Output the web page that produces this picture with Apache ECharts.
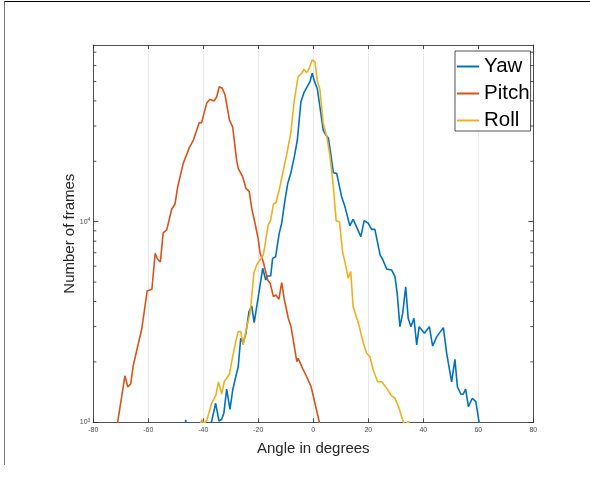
<!DOCTYPE html>
<html>
<head>
<meta charset="utf-8">
<script src="https://cdn.jsdelivr.net/npm/echarts@6/dist/echarts.min.js"></script>
<style>html,body{margin:0;padding:0;background:#fff}#c{width:590px;height:481px}</style>
</head>
<body>
<div id="c"></div>
<script>
// ---- data (angle in degrees, number of frames) ----
const seriesNames = ['Yaw', 'Pitch', 'Roll'];
const xTicks = [-80, -60, -40, -20, 0, 20, 40, 60, 80];
const yMajorTicks = [1000, 10000];
const yMinorTicks = [2000, 3000, 4000, 5000, 6000, 7000, 8000, 9000, 20000, 30000, 40000, 50000, 60000, 70000];

const yawData = [
  [-47, 850], [-46.4, 1030], [-45.8, 850], [-41, 800], [-37.2, 980], [-35.5, 1244], [-34.3, 1015],
  [-33.3, 1035], [-32.5, 1117], [-31.5, 1462], [-30.3, 1161], [-29.3, 1449], [-28.2, 1687],
  [-27.3, 1893], [-26.4, 2625], [-25.5, 2478], [-24.5, 2780], [-23.4, 3556], [-22.4, 3800],
  [-21.5, 3140], [-20.0, 4230], [-18.4, 5860], [-17.3, 5120], [-16.6, 5360], [-15.5, 5360],
  [-14.8, 6560], [-13.7, 6690], [-12.4, 8750], [-11.5, 9820], [-10.3, 12820], [-9.3, 15520],
  [-8.2, 17420], [-6.9, 21090], [-5.8, 25540], [-4.5, 39620], [-3.4, 43950], [-2.2, 47090],
  [-1.2, 49890], [-0.4, 54950], [0.6, 49330], [1.5, 45710], [2.4, 37410], [3.6, 28640],
  [4.6, 27040], [5.5, 26030], [6.4, 21510], [7.3, 17540], [8.5, 17420], [10.3, 13330],
  [11.5, 11890], [13.3, 9530], [14.5, 10290], [15.8, 9370], [17.3, 8420], [18.5, 10120],
  [20.0, 9820], [21.2, 9160], [22.4, 9160], [24.3, 6820], [25.2, 6500], [26.7, 5800],
  [28.5, 5740], [29.7, 5320], [30.5, 4400], [31.5, 2998], [32.5, 3490], [33.6, 4740],
  [34.5, 3300], [35.5, 2998], [36.6, 3300], [37.6, 2430], [38.5, 2998], [40.4, 2780],
  [42.2, 2998], [43.4, 2400], [44.9, 2673], [47.3, 2965], [48.5, 2208], [50.3, 1592],
  [51.5, 2060], [52.4, 1503], [53.7, 1380], [54.5, 1380], [55.4, 1462], [56.4, 1196],
  [57.8, 1318], [59.1, 1267], [60.5, 960]
];

const pitchData = [
  [-71.2, 990], [-68.5, 1706], [-67.5, 1503], [-66.4, 1552], [-65.5, 1909], [-63.6, 2478],
  [-62.4, 2910], [-60.4, 4518], [-58.7, 4603], [-57.5, 6950], [-56.6, 6500], [-55.6, 6310],
  [-54.6, 8800], [-53.3, 9100], [-51.5, 11530], [-50.3, 12220], [-49.3, 14940], [-47.3, 19530],
  [-45.1, 23380], [-43.6, 25540], [-41.5, 31170], [-40.6, 31170], [-38.8, 38900], [-37.6, 40740],
  [-36.1, 39960], [-35.1, 41980], [-34.2, 47090], [-33.1, 46240], [-32.1, 42850], [-30.5, 32150],
  [-29.3, 29560], [-27.9, 20320], [-27.3, 18460], [-25.7, 16760], [-24.5, 14680], [-23.3, 14120],
  [-22.4, 11670], [-21.2, 9820], [-20.0, 8170], [-19.4, 7000], [-18.2, 6310], [-16.6, 5120],
  [-15.7, 4930], [-14.5, 4230], [-13.6, 4310], [-12.5, 4110], [-11.5, 4970], [-10.5, 4070],
  [-9.1, 3300], [-8.1, 2998], [-7.0, 2430], [-6.0, 2005], [-5.5, 2083], [-3.9, 1858],
  [-2.4, 1687], [-0.8, 1503], [0.6, 1244], [2.2, 1000], [2.6, 940]
];

const rollData = [
  [-41.2, 960], [-40.6, 1030], [-39.8, 985], [-39.0, 1010], [-38.5, 1047], [-37, 1244],
  [-35.4, 1368], [-34.5, 1592], [-33.3, 1383], [-32.4, 1592], [-30.5, 1742], [-29.3, 2123],
  [-28.2, 2523], [-27.3, 2831], [-26.4, 2831], [-25.5, 2430], [-24.2, 2998], [-23.0, 3490],
  [-21.6, 5530], [-20.6, 6080], [-19.4, 6440], [-18.2, 6820], [-17.6, 7570], [-16.4, 9640],
  [-15.5, 10190], [-14.5, 12250], [-13.6, 12440], [-12.4, 14390], [-11.0, 17750], [-9.7, 21510],
  [-8.2, 27610], [-6.9, 40420], [-5.5, 52840], [-4.2, 54950], [-3.4, 57540], [-2.4, 55340],
  [-1.5, 58210], [-0.4, 63970], [0.6, 62810], [1.5, 49890], [2.4, 45710], [3.6, 30970],
  [4.9, 26550], [6.1, 21090], [7.3, 14940], [8.3, 10120], [9.5, 10000], [10.7, 7000],
  [11.5, 6310], [12.7, 5220], [13.6, 5640], [14.5, 3770], [16.4, 3120], [18.2, 2478],
  [19.4, 2208], [20.6, 2123], [21.8, 1824], [23.4, 1592], [24.9, 1592], [26.7, 1476],
  [28.5, 1353], [29.7, 1318], [31.2, 1175], [32.7, 1007], [33.3, 970], [34.5, 1010], [35.3, 960]
];

const colors = ['#0072BD', '#D95319', '#EDB120'];
const X_MIN = -80, X_MAX = 80, Y_MIN = 1000, Y_MAX = 76000;
const axisColor = '#262626';
const font = '"Liberation Sans", Arial, Helvetica, sans-serif';

const chart = echarts.init(document.getElementById('c'), null, {renderer: 'canvas'});

const lineSeries = [yawData, pitchData, rollData].map((d, i) => ({
  name: seriesNames[i],
  type: 'line',
  data: d,
  xAxisIndex: 0,
  yAxisIndex: 0,
  showSymbol: false,
  symbol: 'none',
  clip: true,
  lineStyle: {color: colors[i], width: 1.6},
  itemStyle: {color: colors[i]},
  z: 3
}));

const minorTickSeries = {
  type: 'custom',
  xAxisIndex: 0,
  yAxisIndex: 0,
  data: yMinorTicks.map(v => [X_MIN, v]),
  silent: true,
  z: 4,
  renderItem: function (params, api) {
    const v = api.value(1);
    const pL = api.coord([X_MIN, v]);
    const pR = api.coord([X_MAX, v]);
    const st = {stroke: axisColor, lineWidth: 0.8};
    return {
      type: 'group',
      children: [
        {type: 'line', shape: {x1: pL[0], y1: pL[1], x2: pL[0] + 3, y2: pL[1]}, style: st},
        {type: 'line', shape: {x1: pR[0] - 3, y1: pR[1], x2: pR[0], y2: pR[1]}, style: st}
      ]
    };
  }
};

const option = {
  animation: false,
  backgroundColor: '#ffffff',
  textStyle: {fontFamily: font},
  grid: {left: 93.3, right: 56.7, top: 45, bottom: 58.7, containLabel: false},
  legend: {
    orient: 'vertical',
    left: 455,
    top: 51,
    padding: [5, 1, 0, 2],
    itemGap: 6,
    itemWidth: 22,
    itemHeight: 2,
    itemTextGap: 1,
    backgroundColor: '#ffffff',
    borderColor: axisColor,
    borderWidth: 0.8,
    borderRadius: 0,
    textStyle: {fontSize: 20.5, color: '#000000', fontFamily: font},
    data: seriesNames.map(n => ({name: n, icon: 'rect'}))
  },
  xAxis: [{
    type: 'value',
    min: X_MIN, max: X_MAX, interval: 20,
    position: 'bottom',
    name: 'Angle in degrees',
    nameLocation: 'middle',
    nameGap: 19,
    nameMoveOverlap: false,
    nameTextStyle: {fontSize: 15, color: axisColor, fontFamily: font},
    axisLine: {show: true, onZero: false, lineStyle: {color: axisColor, width: 0.8}},
    axisTick: {show: true, inside: true, length: 4, lineStyle: {color: axisColor, width: 0.8}},
    axisLabel: {fontSize: 7, color: '#4d4d4d', margin: 4, fontFamily: font,
      formatter: v => (xTicks.indexOf(v) >= 0 ? String(v) : '')},
    splitLine: {show: true, lineStyle: {color: '#e3e3e3', width: 0.8}}
  }, {
    type: 'value',
    min: X_MIN, max: X_MAX, interval: 20,
    position: 'top',
    axisLine: {show: true, onZero: false, lineStyle: {color: axisColor, width: 0.8}},
    axisTick: {show: true, inside: true, length: 4, lineStyle: {color: axisColor, width: 0.8}},
    axisLabel: {show: false},
    splitLine: {show: false}
  }],
  yAxis: [{
    type: 'log',
    logBase: 10,
    min: Y_MIN, max: Y_MAX,
    position: 'left',
    name: 'Number of frames',
    nameLocation: 'middle',
    nameGap: 16,
    nameMoveOverlap: false,
    nameTextStyle: {fontSize: 15, color: axisColor, fontFamily: font},
    axisLine: {show: true, onZero: false, lineStyle: {color: axisColor, width: 0.8}},
    axisTick: {show: true, inside: true, length: 5, lineStyle: {color: axisColor, width: 0.8},
      customValues: yMajorTicks},
    axisLabel: {
      margin: 3, color: '#4d4d4d', fontFamily: font,
      customValues: yMajorTicks,
      formatter: v => '{b|10}{s|' + Math.round(Math.log10(v)) + '}',
      rich: {
        b: {fontSize: 7, color: '#4d4d4d', fontFamily: font},
        s: {fontSize: 5, color: '#4d4d4d', fontFamily: font, verticalAlign: 'top', padding: [0, 0, 4, 0]}
      }
    },
    splitLine: {show: false}
  }, {
    type: 'log',
    logBase: 10,
    min: Y_MIN, max: Y_MAX,
    position: 'right',
    axisLine: {show: true, onZero: false, lineStyle: {color: axisColor, width: 0.8}},
    axisTick: {show: true, inside: true, length: 5, lineStyle: {color: axisColor, width: 0.8},
      customValues: yMajorTicks},
    axisLabel: {show: false},
    splitLine: {show: false}
  }],
  graphic: [
    {type: 'line', shape: {x1: 4, y1: 1.5, x2: 590, y2: 1.5}, style: {stroke: '#000', lineWidth: 1}, silent: true},
    {type: 'line', shape: {x1: 4.5, y1: 1.5, x2: 4.5, y2: 465}, style: {stroke: '#777', lineWidth: 1}, silent: true}
  ],
  series: lineSeries.concat([minorTickSeries])
};

chart.setOption(option);
</script>
</body>
</html>
